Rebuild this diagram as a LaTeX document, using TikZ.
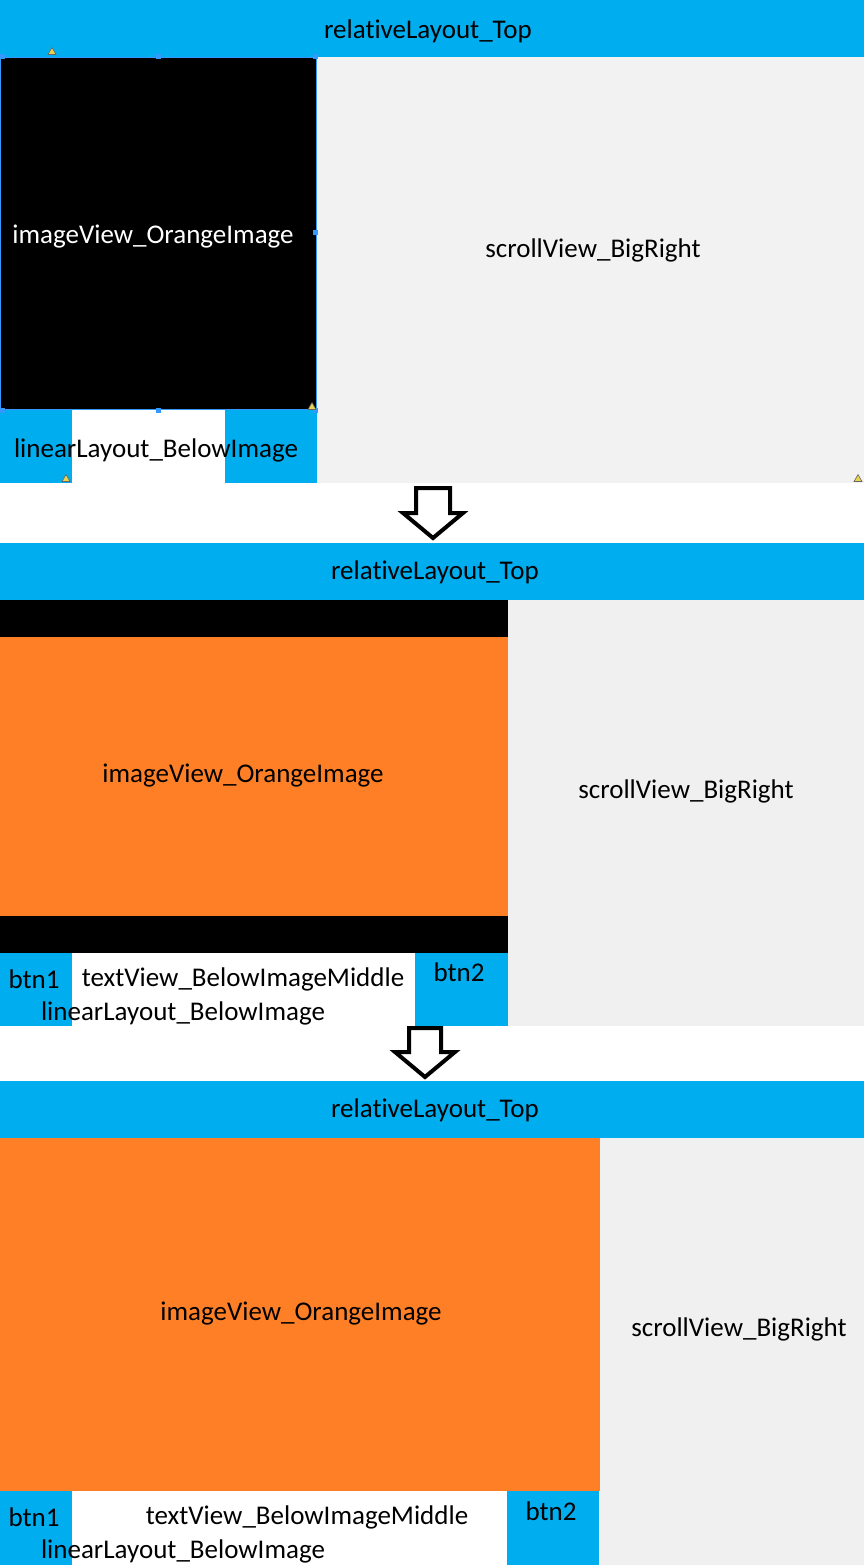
\documentclass[tikz,border=0pt]{standalone}
\usepackage{fontspec}
\setmainfont[Ligatures={NoCommon,NoRare}]{Carlito}
\definecolor{lblue}{HTML}{00ADEF}
\definecolor{lorange}{HTML}{FF7F27}
\definecolor{lgray}{HTML}{F2F2F2}
\definecolor{lgrayb}{HTML}{F0F0F0}
\definecolor{hblue}{HTML}{3399FF}
\definecolor{warn}{HTML}{E8D44D}
\tikzset{
  lbl/.style={inner sep=0pt, font=\fontsize{27}{31}\selectfont, text=black, yshift=-2pt},
  wlbl/.style={lbl, text=white},
  handle/.style={fill=hblue, minimum size=5pt, inner sep=0pt, draw=none},
  warnsign/.style={fill=warn, draw=black!60, line width=0.6pt},
  arrowshape/.style={draw=black, fill=white, line width=4pt, line join=miter},
}
\begin{document}
\begin{tikzpicture}[x=1pt,y=-1pt]
\useasboundingbox[fill=white] (0,0) rectangle (867,1565);
% ---------- panel 1 ----------
\fill[lblue] (0,0) rectangle (864,57);
\fill[lgray] (317,57) rectangle (864,483);
\fill[black] (0,57) rectangle (317,410);
\draw[hblue, line width=1pt] (0.5,57.5) rectangle (316.5,409.5);
\fill[lblue] (0,410) rectangle (72,483);
\fill[white] (72,410) rectangle (225,483);
\fill[lblue] (225,410) rectangle (317,483);
\foreach \p in {(2,57),(158,57),(315,57),(315,232),(158,410),(2,410),(315,410)}
  \node[handle] at \p {};
\foreach \p in {(52,51),(312,406),(66,478),(858,478)}
  \draw[warnsign] \p ++(-4,3.5) -- ++(8,0) -- ++(-4,-7) -- cycle;
\node[lbl] (t1) at (428,29) {relativeLayout\_Top};
\node[wlbl] (i1) at (153,235) {imageView\_OrangeImage};
\node[lbl] (s1) at (593,248) {scrollView\_BigRight};
\node[lbl] (l1) at (156,448) {linearLayout\_BelowImage};
% arrow 1
\draw[arrowshape] (416,488) -- (450,488) -- (450,513) -- (463,513) -- (433,538) -- (403,513) -- (416,513) -- cycle;
% ---------- panel 2 ----------
\fill[lblue] (0,543) rectangle (864,600);
\fill[lgrayb] (508,600) rectangle (864,1026);
\fill[black] (0,600) rectangle (508,953);
\fill[lorange] (0,637) rectangle (508,916);
\fill[lblue] (0,953) rectangle (72,1026);
\fill[lblue] (415,953) rectangle (508,1026);
\node[lbl] (t2) at (435,570) {relativeLayout\_Top};
\node[lbl] (i2) at (243,774) {imageView\_OrangeImage};
\node[lbl] (s2) at (686,789) {scrollView\_BigRight};
\node[lbl] (b21) at (34,977) {btn1};
\node[lbl] (tv2) at (243,977) {textView\_BelowImageMiddle};
\node[lbl] (b22) at (459,970) {btn2};
\node[lbl] (l2) at (183,1011) {linearLayout\_BelowImage};
% arrow 2
\draw[arrowshape] (409,1028) -- (441,1028) -- (441,1052) -- (455,1052) -- (425,1077) -- (395,1052) -- (409,1052) -- cycle;
% ---------- panel 3 ----------
\fill[lblue] (0,1081) rectangle (864,1138);
\fill[lgrayb] (600,1138) rectangle (864,1565);
\fill[lorange] (0,1138) rectangle (600,1491);
\fill[lblue] (0,1491) rectangle (72,1565);
\fill[lblue] (507,1491) rectangle (599,1565);
\node[lbl] (t3) at (435,1108) {relativeLayout\_Top};
\node[lbl] (i3) at (301,1312) {imageView\_OrangeImage};
\node[lbl] (s3) at (739,1327) {scrollView\_BigRight};
\node[lbl] (b31) at (34,1515) {btn1};
\node[lbl] (tv3) at (307,1515) {textView\_BelowImageMiddle};
\node[lbl] (b32) at (551,1509) {btn2};
\node[lbl] (l3) at (183,1549) {linearLayout\_BelowImage};
\end{tikzpicture}
\end{document}
